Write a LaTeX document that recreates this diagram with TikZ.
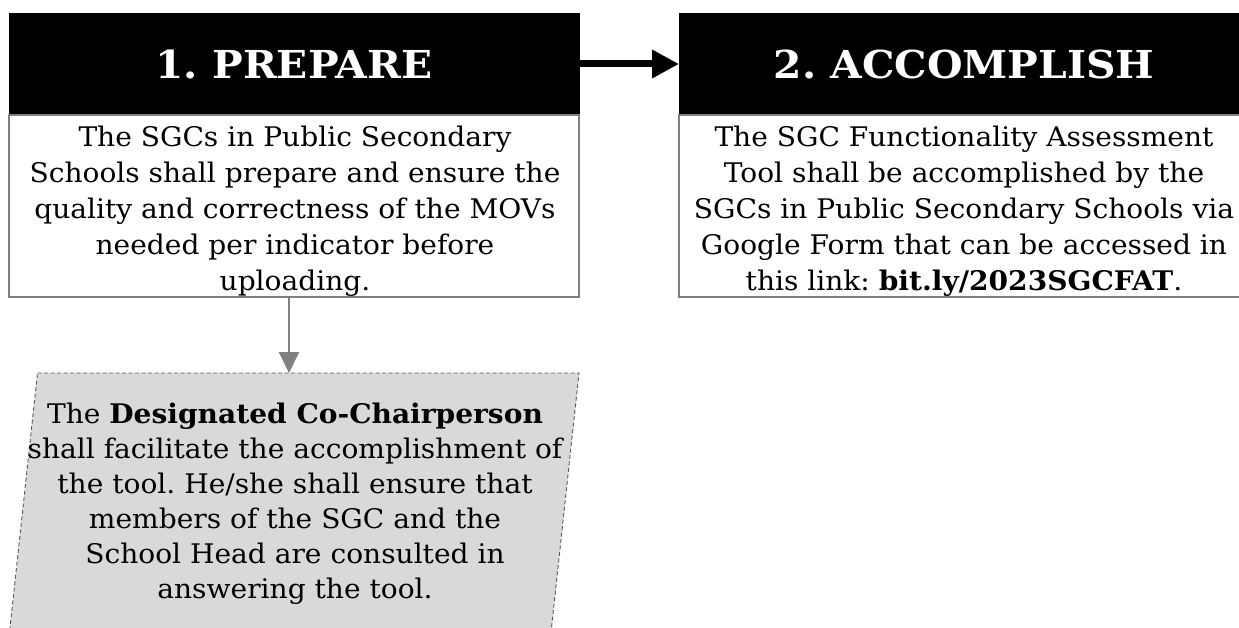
\documentclass[tikz,border=0pt]{standalone}
\usepackage{fontspec}
\setmainfont{DejaVu Serif}[FakeStretch=1.04]
\newfontfamily\headfont{DejaVu Serif}[FakeStretch=1.06]
\usetikzlibrary{arrows.meta}
\definecolor{boxgray}{HTML}{7F7F7F}
\definecolor{notefill}{HTML}{D9D9D9}
\definecolor{notedash}{HTML}{595959}
\frenchspacing
\begin{document}
\begin{tikzpicture}[x=1pt,y=-1pt,
  header/.style={fill=black, draw=black, text=white, minimum width=570pt,
    minimum height=102pt, inner sep=0pt, outer sep=0pt,
    font=\headfont\fontsize{38.5}{44}\selectfont\bfseries},
  bodybox/.style={draw=boxgray, line width=1.2pt, fill=white, minimum width=570pt,
    minimum height=182pt, inner sep=0pt, outer sep=0pt},
  bodytext/.style={align=center, inner sep=0pt, font=\fontsize{27}{36}\selectfont},
  notetext/.style={align=center, inner sep=0pt, font=\fontsize{27}{35}\selectfont},
  flowarrow/.style={line width=7pt, -{Triangle[length=27pt,width=27pt]}},
  downarrow/.style={draw=gray, line width=2pt, -{Triangle[length=21pt,width=20pt]}}
]
% page area
\fill[white] (0,0) rectangle (1239,628);
\clip (0,0) rectangle (1239,628);

% step 1
\node[header] (h1) at (294,64) {1. PREPARE};
\node[bodybox, anchor=north] (b1) at (h1.south) {};
\node[bodytext] (t1) at (295,211.5) {The SGCs in Public Secondary\\
  Schools shall prepare and ensure the\\
  quality and correctness of the MOVs\\
  needed per indicator before\\
  uploading.};

% step 2
\node[header] (h2) at (964,64) {2. ACCOMPLISH};
\node[bodybox, anchor=north] (b2) at (h2.south) {};
\node[bodytext] (t2) at (964,211.5) {The SGC Functionality Assessment\\
  Tool shall be accomplished by the\\
  SGCs in Public Secondary Schools via\\
  Google Form that can be accessed in\\
  this link: \textbf{bit.ly/2023SGCFAT}.};

\draw[flowarrow] (h1.east) -- (h2.west);

% note on the designated co-chairperson
\filldraw[fill=notefill, draw=notedash, line width=0.9pt, dash pattern=on 4pt off 2.5pt]
  (37.5,373) -- (579,373) -- (543.7,700) -- (2.2,700) -- cycle;
\coordinate (notetop) at (289,373);
\node[notetext] (note) at (295,504) {The \textbf{Designated Co-Chairperson}\\
  shall facilitate the accomplishment of\\
  the tool. He/she shall ensure that\\
  members of the SGC and the\\
  School Head are consulted in\\
  answering the tool.};

\draw[downarrow] (b1.south -| notetop) -- (notetop);
\end{tikzpicture}
\end{document}
